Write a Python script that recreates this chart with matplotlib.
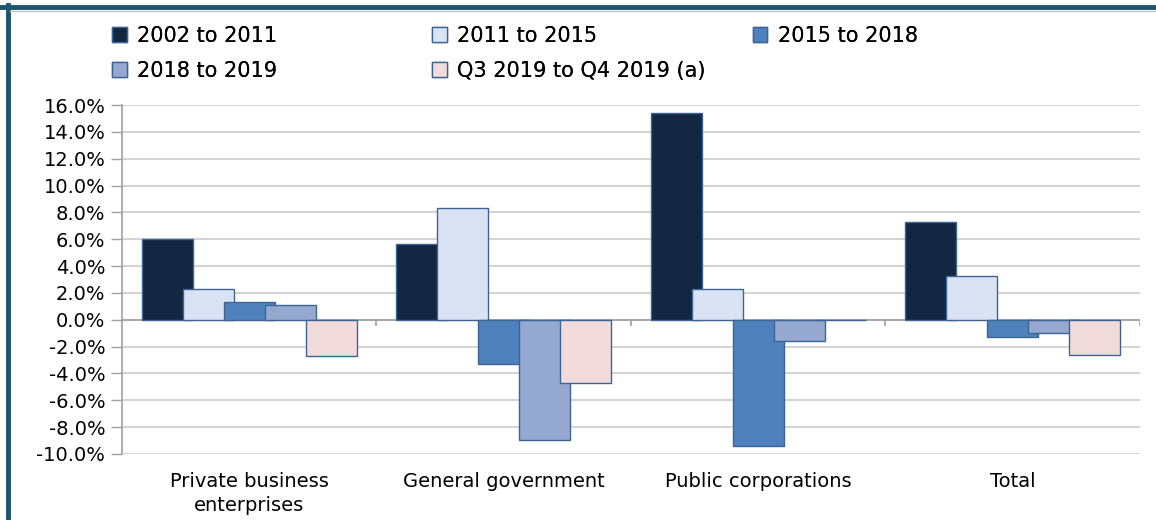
import matplotlib
matplotlib.use('Agg')
import matplotlib.pyplot as plt
from matplotlib.lines import Line2D
import numpy as np

# Data (% change)
categories = ['Private business\nenterprises', 'General government', 'Public corporations', 'Total']
series_names = ['2002 to 2011', '2011 to 2015', '2015 to 2018', '2018 to 2019', 'Q3 2019 to Q4 2019 (a)']
s2002_2011 = [6.0, 5.65, 15.4, 7.3]
s2011_2015 = [2.3, 8.35, 2.3, 3.25]
s2015_2018 = [1.35, -3.3, -9.4, -1.3]
s2018_2019 = [1.1, -8.95, -1.6, -0.95]
sq3_q4 = [-2.7, -4.7, -0.05, -2.6]
colors = ['#132742', '#dae3f3', '#4f81bd', '#95a9d0', '#f2dcdb']
edge = '#3d6594'

all_series = [s2002_2011, s2011_2015, s2015_2018, s2018_2019, sq3_q4]

plt.rcParams['font.family'] = ['DejaVu Sans']

fig = plt.figure(figsize=(11.56, 5.2), dpi=100)
ax = fig.add_axes([0.1055, 0.127, 0.8805, 0.671])

x = np.arange(len(categories))
width = 0.2
step = 0.161
bars = []
for i, vals in enumerate(all_series):
    b = ax.bar(x + (i - 2) * step, vals, width, color=colors[i], edgecolor=edge,
               linewidth=1.0, label=series_names[i], zorder=2 + i)
    bars.append(b)

ax.set_xlim(-0.5, len(categories) - 0.5)
ax.set_ylim(-10, 16)
ax.set_yticks(np.arange(-10, 17, 2))
ax.set_yticklabels([f'{v:.1f}%' for v in np.arange(-10, 17, 2)], fontsize=14)
ax.yaxis.grid(True, color='#d4d4d4', linewidth=1.5, zorder=0)
ax.set_axisbelow(True)
ax.tick_params(axis='y', length=8, color='#a0a0a0', width=1, pad=4)

ax.set_xticks(x)
ax.set_xticklabels(categories, fontsize=14, linespacing=1.3)
ax.tick_params(axis='x', length=0, pad=13)

for side in ['top', 'right', 'bottom']:
    ax.spines[side].set_visible(False)
ax.spines['left'].set_color('#a0a0a0')
ax.spines['left'].set_linewidth(1.2)

# category axis at zero with boundary tick marks
ax.axhline(0, color='#a0a0a0', linewidth=1.2, zorder=1)
ax.vlines(np.arange(len(categories)) + 0.5, -0.5, 0, color='#a0a0a0', linewidth=1.2, zorder=1)

# legend entries placed as in the reference (two rows)
legend_pos = [(0.097, 0.95), (0.374, 0.95), (0.651, 0.95), (0.097, 0.883), (0.374, 0.883)]
for b, name, pos in zip(bars, series_names, legend_pos):
    leg = fig.legend([b], [name], loc='upper left', bbox_to_anchor=pos, frameon=False,
                     fontsize=15, handlelength=0.7, handleheight=0.7, handletextpad=0.5,
                     borderaxespad=0, borderpad=0)
    fig.add_artist(leg)

# frame lines (top and left) as in the reference
fig.add_artist(Line2D([0, 1], [0.9865, 0.9865], transform=fig.transFigure, color='#1d5470', linewidth=3.5))
fig.add_artist(Line2D([0.0065, 0.0065], [0, 0.99], transform=fig.transFigure, color='#1d5470', linewidth=3.5))
fig.add_artist(Line2D([0.0085, 1], [0.979, 0.979], transform=fig.transFigure, color='#c0c0c0', linewidth=1))

fig.savefig('out.png', dpi=100)
